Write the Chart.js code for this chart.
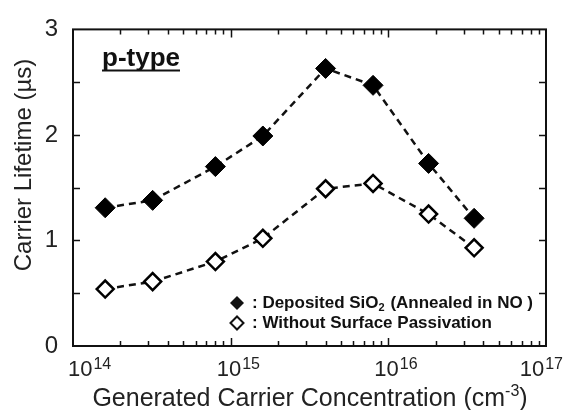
<!DOCTYPE html>
<html>
<head>
<meta charset="utf-8">
<script src="https://cdn.jsdelivr.net/npm/chart.js@4"></script>
<style>
  html, body { margin: 0; padding: 0; background: #fff; }
  #wrap { width: 564px; height: 410px; }
</style>
</head>
<body>
<div id="wrap"><canvas id="lifetimeChart" width="564" height="410"></canvas></div>
<script>
// carrier concentration (cm^-3) and lifetimes (us)
const concentration = [1.6e14, 3.2e14, 8e14, 1.6e15, 4e15, 8e15, 1.8e16, 3.5e16];
const lifetimeNO = [1.31, 1.38, 1.70, 1.99, 2.63, 2.47, 1.73, 1.21];
const lifetimeBare = [0.54, 0.61, 0.80, 1.02, 1.49, 1.54, 1.25, 0.93];
const yTicks = [0, 1, 2, 3];
const xDecades = [14, 15, 16, 17];
const legendLabels = [
  { pre: ': Deposited SiO', sub: '2', post: ' (Annealed in NO )', filled: true },
  { pre: ': Without Surface Passivation', sub: '', post: '', filled: false }
];
const panelLabel = 'p-type';
const yTitle = 'Carrier Lifetime (\u00b5s)';

const FONT = '"Liberation Sans", Arial, sans-serif';
const INK = '#111';

function toPoints(ys) {
  return concentration.map((c, i) => ({ x: c, y: ys[i] }));
}

function diamond(ctx, x, y, r) {
  ctx.beginPath();
  ctx.moveTo(x - r, y);
  ctx.lineTo(x, y - r);
  ctx.lineTo(x + r, y);
  ctx.lineTo(x, y + r);
  ctx.closePath();
}

// frame, inward ticks, x labels with superscripts, axis titles, legend, panel label
const decorations = {
  id: 'decorations',
  afterDraw(chart) {
    const ctx = chart.ctx;
    const { left, right, top, bottom } = chart.chartArea;
    const xs = chart.scales.x, ys = chart.scales.y;
    ctx.save();
    ctx.strokeStyle = INK;
    ctx.lineWidth = 2;
    ctx.strokeRect(left, top, right - left, bottom - top);

    // y ticks (both sides)
    ctx.lineWidth = 1.5;
    for (let v = 0.5; v < 3; v += 0.5) {
      const py = Math.round(ys.getPixelForValue(v)) + 0.5;
      ctx.beginPath();
      ctx.moveTo(left, py); ctx.lineTo(left + 7, py);
      ctx.moveTo(right, py); ctx.lineTo(right - 7, py);
      ctx.stroke();
    }
    // x ticks (log, bottom and top)
    for (let n = 14; n < 17; n++) {
      for (let m = 1; m <= 9; m++) {
        if (n === 14 && m === 1) continue;
        const px = Math.round(xs.getPixelForValue(m * Math.pow(10, n))) + 0.5;
        const len = m === 1 ? 8 : 5;
        ctx.beginPath();
        ctx.moveTo(px, bottom); ctx.lineTo(px, bottom - len);
        ctx.moveTo(px, top); ctx.lineTo(px, top + len);
        ctx.stroke();
      }
    }

    // x tick labels 10^n
    ctx.fillStyle = '#222';
    ctx.textBaseline = 'alphabetic';
    ctx.textAlign = 'left';
    xDecades.forEach(n => {
      const px = xs.getPixelForValue(Math.pow(10, n));
      ctx.font = '22px ' + FONT;
      const w1 = ctx.measureText('10').width;
      ctx.font = '16px ' + FONT;
      const w2 = ctx.measureText(String(n)).width;
      let x0 = px - 14;
      if (x0 < 68) x0 = 68;
      if (x0 + w1 + w2 + 1 > 563) x0 = 563 - w1 - w2 - 1;
      ctx.font = '22px ' + FONT;
      ctx.fillText('10', x0, 376);
      ctx.font = '16px ' + FONT;
      ctx.fillText(String(n), x0 + w1 + 1, 369);
    });

    // x axis title
    const t1 = 'Generated Carrier Concentration (cm', t2 = '-3', t3 = ')';
    ctx.font = '25px ' + FONT;
    const a = ctx.measureText(t1).width, c = ctx.measureText(t3).width;
    ctx.font = '16px ' + FONT;
    const b = ctx.measureText(t2).width;
    const tx = 310 - (a + b + c) / 2;
    ctx.font = '25px ' + FONT;
    ctx.fillText(t1, tx, 406);
    ctx.font = '16px ' + FONT;
    ctx.fillText(t2, tx + a, 396);
    ctx.font = '25px ' + FONT;
    ctx.fillText(t3, tx + a + b, 406);

    // y axis title
    ctx.save();
    ctx.translate(24, 165);
    ctx.rotate(-Math.PI / 2);
    ctx.textAlign = 'center';
    ctx.textBaseline = 'middle';
    ctx.font = '24px ' + FONT;
    ctx.fillText(yTitle, 0, 0);
    ctx.restore();

    // panel label
    ctx.fillStyle = INK;
    ctx.font = 'bold 26px ' + FONT;
    const pw = ctx.measureText(panelLabel).width;
    ctx.fillText(panelLabel, 102, 66);
    ctx.fillRect(102, 69.5, pw, 2);

    // legend
    legendLabels.forEach((item, i) => {
      const ly = 303 + i * 20;
      ctx.lineWidth = 2;
      diamond(ctx, 237, ly, item.filled ? 7 : 6.5);
      if (item.filled) { ctx.fillStyle = INK; ctx.fill(); }
      else { ctx.fillStyle = '#fff'; ctx.fill(); ctx.strokeStyle = INK; ctx.stroke(); }
      ctx.fillStyle = INK;
      ctx.textBaseline = 'middle';
      ctx.font = 'bold 17px ' + FONT;
      let x = 252;
      ctx.fillText(item.pre, x, ly);
      x += ctx.measureText(item.pre).width;
      if (item.sub) {
        ctx.font = 'bold 11px ' + FONT;
        ctx.fillText(item.sub, x, ly + 5);
        x += ctx.measureText(item.sub).width + 1;
        ctx.font = 'bold 17px ' + FONT;
      }
      if (item.post) ctx.fillText(item.post, x, ly);
    });
    ctx.restore();
  }
};

const config = {
  type: 'line',
  data: {
    datasets: [
      {
        label: 'Deposited SiO2 (Annealed in NO )',
        data: toPoints(lifetimeNO),
        borderColor: INK,
        borderWidth: 2.5,
        borderDash: [7, 5],
        pointStyle: 'rectRot',
        pointRadius: 10,
        pointBackgroundColor: '#000',
        pointBorderColor: '#000',
        pointBorderWidth: 1,
        tension: 0
      },
      {
        label: 'Without Surface Passivation',
        data: toPoints(lifetimeBare),
        borderColor: INK,
        borderWidth: 2.5,
        borderDash: [7, 5],
        pointStyle: 'rectRot',
        pointRadius: 8.5,
        pointBackgroundColor: '#fff',
        pointBorderColor: '#000',
        pointBorderWidth: 2.5,
        tension: 0
      }
    ]
  },
  options: {
    responsive: false,
    animation: false,
    layout: { padding: { left: 0, right: 18, top: 23, bottom: 0 } },
    plugins: {
      legend: { display: false },
      tooltip: { enabled: false }
    },
    scales: {
      x: {
        type: 'logarithmic',
        min: 1e14,
        max: 1e17,
        grid: { display: false, drawTicks: false },
        border: { display: false },
        ticks: { display: false },
        afterFit: s => { s.height = 64; }
      },
      y: {
        min: 0,
        max: 3,
        afterBuildTicks: s => { s.ticks = yTicks.map(v => ({ value: v })); },
        grid: { display: false, drawTicks: false },
        border: { display: false },
        ticks: {
          padding: 15,
          color: '#222',
          font: { family: FONT, size: 24 },
          callback: v => String(v)
        },
        afterFit: s => { s.width = 73; }
      }
    }
  },
  plugins: [decorations]
};

new Chart(document.getElementById('lifetimeChart'), config);
</script>
</body>
</html>
